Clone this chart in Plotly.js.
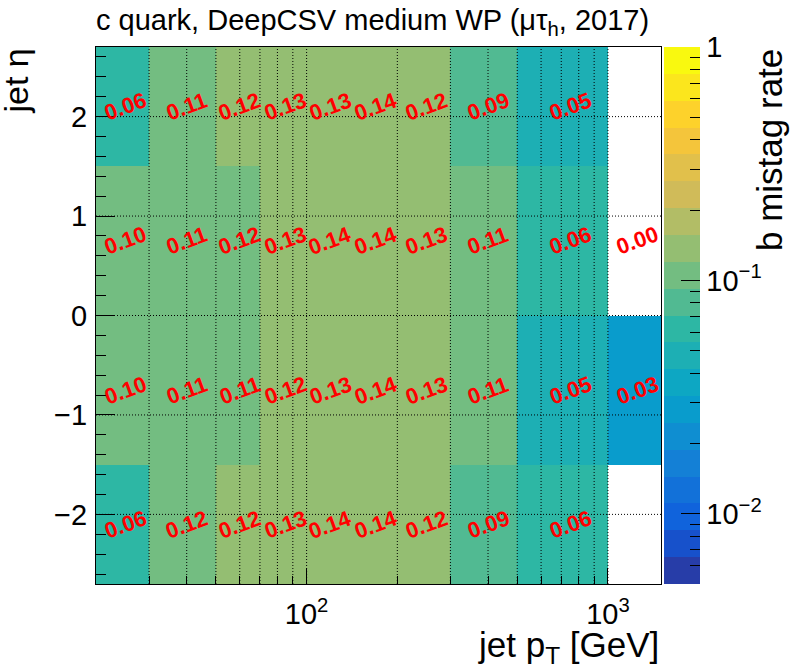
<!DOCTYPE html>
<html><head><meta charset="utf-8">
<script src="https://cdn.plot.ly/plotly-3.0.1.min.js"></script>
<style>html,body{margin:0;padding:0;background:#fff}#chart{width:796px;height:672px}</style>
</head><body><div id="chart"></div>
<script>
// ---- data ----
const ptEdges = [20, 30, 50, 70, 100, 140, 200, 300, 500, 1000, 1500];
const etaEdges = [-2.7, -1.5, 0, 1.5, 2.7];
// mistag rate per pT bin, one array per eta row (bottom to top); null = empty bin
const rateEtaM27toM15 = [0.06, 0.118, 0.122, 0.13, 0.14, 0.14, 0.122, 0.09, 0.06, null];
const rateEtaM15to0   = [0.10, 0.11, 0.11, 0.122, 0.13, 0.14, 0.13, 0.11, 0.05, 0.03];
const rateEta0to15    = [0.10, 0.11, 0.118, 0.13, 0.14, 0.14, 0.13, 0.11, 0.06, 0];
const rateEta15to27   = [0.06, 0.11, 0.122, 0.13, 0.13, 0.14, 0.122, 0.09, 0.05, null];
const zMin = 0.005, zMax = 1;
const xGridVals = [30, 40, 50, 60, 70, 80, 90, 100, 200, 300, 400, 500, 600, 700, 800, 900, 1000];
const yGridVals = [-2, -1, 0, 1, 2];
const xMajorTicks = [100, 1000];
const xMajorLabels = ['10<sup>2</sup>', '10<sup>3</sup>'];
const zMajorTicks = [0.01, 0.1, 1];
const zMajorLabels = ['10<sup>\u22122</sup>', '10<sup>\u22121</sup>', '1'];
const zMinorTicks = [0.005, 0.006, 0.007, 0.008, 0.009, 0.02, 0.03, 0.04, 0.05, 0.06, 0.07, 0.08, 0.09,
                     0.2, 0.3, 0.4, 0.5, 0.6, 0.7, 0.8, 0.9];

// ---- ROOT kBird palette, 20 contour levels ----
const birdStops = [0.0, 0.125, 0.25, 0.375, 0.5, 0.625, 0.75, 0.875, 1.0];
const birdR = [0.2082, 0.0592, 0.0780, 0.0232, 0.1802, 0.5301, 0.8186, 0.9956, 0.9764];
const birdG = [0.1664, 0.3599, 0.5041, 0.6419, 0.7178, 0.7492, 0.7328, 0.7862, 0.9832];
const birdB = [0.5293, 0.8684, 0.8385, 0.7914, 0.6425, 0.4662, 0.3499, 0.1968, 0.0539];
function bird(t) {
  let k = 0;
  while (k < birdStops.length - 2 && t > birdStops[k + 1]) k++;
  const f = (t - birdStops[k]) / (birdStops[k + 1] - birdStops[k]);
  const c = arr => Math.round(255 * (arr[k] + (arr[k + 1] - arr[k]) * f));
  return 'rgb(' + c(birdR) + ',' + c(birdG) + ',' + c(birdB) + ')';
}
const nLevels = 20;
const colorscale = [];
for (let i = 0; i < nLevels; i++) {
  const t = Math.floor((i + 0.99) * 255 / nLevels) / 255;
  const col = bird(t);
  colorscale.push([i / nLevels, col], [(i + 1) / nLevels, col]);
}

const rows = [rateEtaM27toM15, rateEtaM15to0, rateEta0to15, rateEta15to27];
const z = rows.map(r => r.map(v => (v === null || v <= 0) ? null : Math.log10(v)));
const lzMin = Math.log10(zMin), lzMax = Math.log10(zMax);

const FONT = 'Liberation Sans, Arial, Helvetica, sans-serif';

const heat = {
  type: 'heatmap', x: ptEdges, y: etaEdges, z: z,
  zmin: lzMin, zmax: lzMax, colorscale: colorscale, zsmooth: false,
  hoverinfo: 'skip', xgap: 0, ygap: 0,
  colorbar: {
    x: (664 - 96) / 565, xanchor: 'left', xpad: 0, y: 0.5, yanchor: 'middle', ypad: 0,
    len: 1, lenmode: 'fraction', thickness: 36, thicknessmode: 'pixels',
    outlinewidth: 0, tickmode: 'array',
    tickvals: zMajorTicks.map(Math.log10), ticktext: zMajorLabels,
    ticks: 'inside', ticklen: 19, tickcolor: 'black', tickwidth: 1,
    tickfont: {family: FONT, size: 29, color: 'black'}
  }
};
// transparent companion colorbar carrying the minor ticks
const minorBar = {
  type: 'scatter', x: [null], y: [null], mode: 'markers', hoverinfo: 'skip', showlegend: false,
  marker: {
    color: [lzMin], cmin: lzMin, cmax: lzMax,
    colorscale: [[0, 'rgba(0,0,0,0)'], [1, 'rgba(0,0,0,0)']], showscale: true,
    colorbar: {
      x: (664 - 96) / 565, xanchor: 'left', xpad: 0, y: 0.5, yanchor: 'middle', ypad: 0,
      len: 1, lenmode: 'fraction', thickness: 36, thicknessmode: 'pixels',
      outlinewidth: 0, bgcolor: 'rgba(0,0,0,0)', tickmode: 'array',
      tickvals: zMinorTicks.map(Math.log10),
      ticks: 'inside', ticklen: 10, tickcolor: 'black', tickwidth: 1, showticklabels: false
    }
  }
};

const annotations = [];
rows.forEach((row, j) => row.forEach((v, i) => {
  if (v === null) return;
  annotations.push({
    xref: 'x', yref: 'y',
    x: Math.log10((ptEdges[i] + ptEdges[i + 1]) / 2),
    y: (etaEdges[j] + etaEdges[j + 1]) / 2,
    text: v.toFixed(2), showarrow: false, textangle: -20,
    xanchor: 'center', yanchor: 'middle',
    font: {family: FONT, size: 22, color: '#ff0000', weight: 'bold'}
  });
}));
const px2x = p => (p - 96) / 565;
const py2y = p => (584 - p) / 537;
annotations.push(
  {xref: 'paper', yref: 'paper', x: px2x(94), y: py2y(22), xanchor: 'left', yanchor: 'middle',
   text: 'c quark, DeepCSV medium WP (\u03bc\u03c4<sub>h</sub>, 2017)', showarrow: false,
   font: {family: FONT, size: 29, color: 'black'}},
  {xref: 'paper', yref: 'paper', x: 1, y: py2y(647), xanchor: 'right', yanchor: 'middle',
   text: 'jet p<sub>T</sub> [GeV]', showarrow: false,
   font: {family: FONT, size: 35, color: 'black'}},
  {xref: 'paper', yref: 'paper', x: px2x(15), y: 1, xanchor: 'center', yanchor: 'top',
   text: 'jet \u03b7', showarrow: false, textangle: -90,
   font: {family: FONT, size: 34, color: 'black'}},
  {xref: 'paper', yref: 'paper', x: px2x(769), y: 1, xanchor: 'center', yanchor: 'top',
   text: 'b mistag rate', showarrow: false, textangle: -90,
   font: {family: FONT, size: 35, color: 'black'}}
);

const dotLine = {color: 'black', width: 1, dash: '1px,2px'};
const shapes = [];
xGridVals.forEach(v => shapes.push({type: 'line', xref: 'x', yref: 'paper', x0: v, x1: v, y0: 0, y1: 1, layer: 'above', line: dotLine}));
yGridVals.forEach(v => shapes.push({type: 'line', xref: 'paper', yref: 'y', x0: 0, x1: 1, y0: v, y1: v, layer: 'above', line: dotLine}));

const layout = {
  width: 796, height: 672,
  margin: {l: 96, r: 135, t: 47, b: 88, pad: 0},
  paper_bgcolor: 'white', plot_bgcolor: 'white',
  font: {family: FONT, color: 'black'},
  showlegend: false,
  xaxis: {
    type: 'log', range: [Math.log10(ptEdges[0]), Math.log10(ptEdges[ptEdges.length - 1])],
    tickmode: 'array', tickvals: xMajorTicks, ticktext: xMajorLabels,
    ticks: 'inside', ticklen: 16, tickcolor: 'black', tickwidth: 1,
    minor: {tickmode: 'array', tickvals: xGridVals, ticks: 'inside', ticklen: 8, tickcolor: 'black', showgrid: false},
    showgrid: false, zeroline: false, showline: true, mirror: true, linecolor: 'black', linewidth: 1,
    tickfont: {family: FONT, size: 29, color: 'black'}, ticklabelstandoff: 4
  },
  yaxis: {
    range: [etaEdges[0], etaEdges[etaEdges.length - 1]],
    tickmode: 'linear', tick0: 0, dtick: 1,
    ticks: 'inside', ticklen: 19, tickcolor: 'black', tickwidth: 1,
    minor: {tickmode: 'linear', tick0: 0, dtick: 0.2, ticks: 'inside', ticklen: 10, tickcolor: 'black', showgrid: false},
    showgrid: false, zeroline: false, showline: true, mirror: true, linecolor: 'black', linewidth: 1,
    tickfont: {family: FONT, size: 29, color: 'black'}, ticklabelstandoff: 2
  },
  annotations: annotations,
  shapes: shapes
};

Plotly.newPlot('chart', [heat, minorBar], layout, {staticPlot: true, displayModeBar: false});
</script>
</body></html>
